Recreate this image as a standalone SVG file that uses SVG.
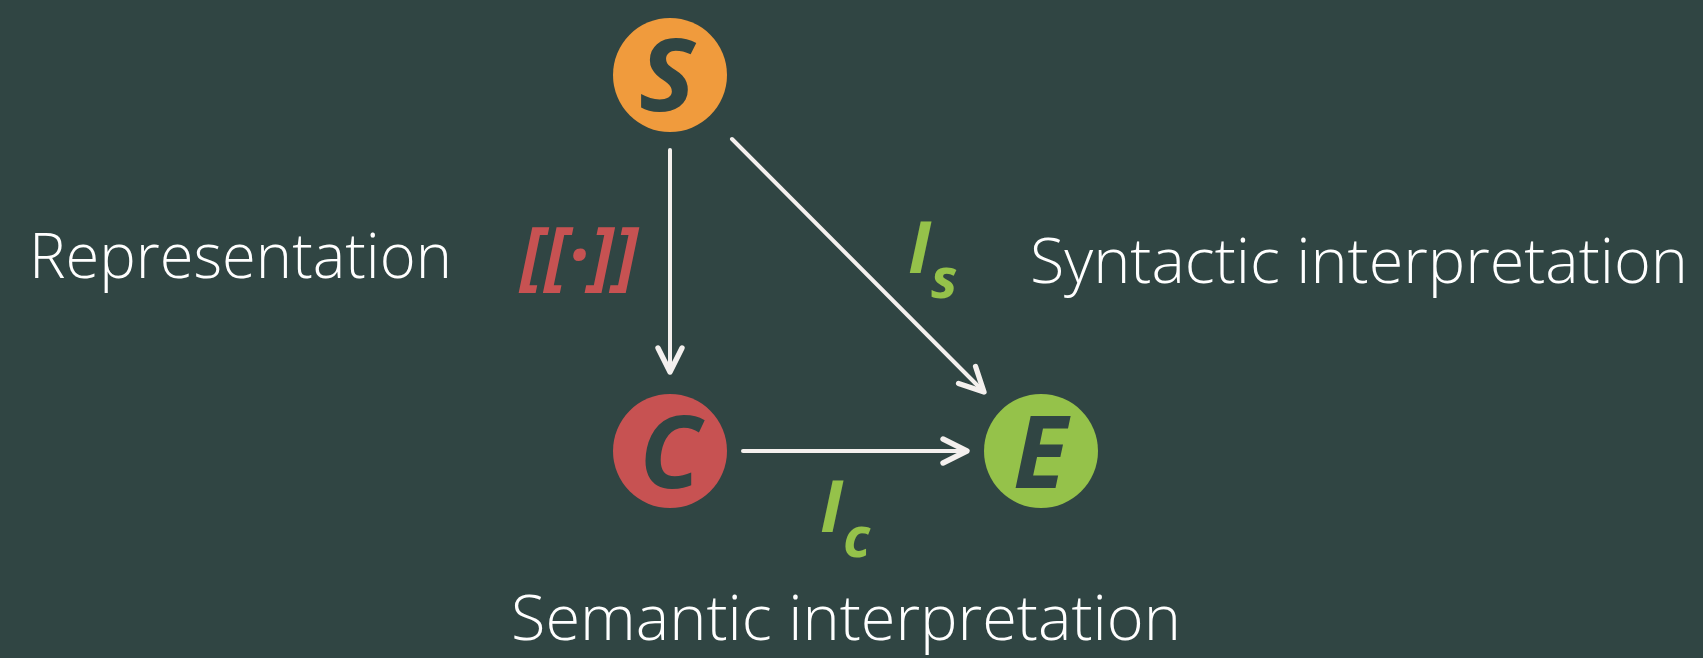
<svg xmlns="http://www.w3.org/2000/svg" width="1703" height="658" viewBox="0 0 1703 658">
<style>
.lbl{font-family:"Open Sans","Liberation Sans",sans-serif;font-weight:300;font-size:62px;fill:#ffffff}
.node{font-family:"Open Sans","Liberation Sans",sans-serif;font-weight:700;font-style:italic;font-size:100px;fill:#304543;text-anchor:middle}
.math{font-family:"Open Sans","Liberation Sans",sans-serif;font-weight:700;font-style:italic;fill:#95c24a}
.edge{stroke:#f4f0ee;stroke-width:4;stroke-linecap:round;fill:none}
</style>
<defs>
<marker id="ah" markerUnits="userSpaceOnUse" markerWidth="40" markerHeight="40" viewBox="-25 -15 30 30" refX="0" refY="0" orient="auto">
<path d="M-18 -9 L0 0 L-18 9" fill="none" stroke="#f4f0ee" stroke-width="4" stroke-linecap="round" stroke-linejoin="round"/>
</marker>
</defs>
<rect width="1703" height="658" fill="#304543"/>
<g id="connectors">
<path class="edge" d="M670 150 L670 372" marker-end="url(#ah)"/>
<path class="edge" d="M732 139 L984 392" marker-end="url(#ah)"/>
<path class="edge" d="M743 451 L967 451" marker-end="url(#ah)"/>
</g>
<g id="node-S">
<circle cx="670" cy="75" r="57" fill="#f09b3d"/>
<text class="node" x="667" y="111" textLength="56" lengthAdjust="spacingAndGlyphs">S</text>
</g>
<g id="node-C">
<circle cx="670" cy="451" r="57" fill="#c75252"/>
<text class="node" x="670" y="488">C</text>
</g>
<g id="node-E">
<circle cx="1041" cy="451" r="57" fill="#95c24a"/>
<text class="node" x="1040" y="488">E</text>
</g>
<g id="labels">
<text class="lbl" x="29" y="278" textLength="423" lengthAdjust="spacingAndGlyphs">Representation</text>
<text class="lbl" x="1030" y="283" textLength="658" lengthAdjust="spacingAndGlyphs">Syntactic interpretation</text>
<text class="lbl" x="511" y="640" textLength="670" lengthAdjust="spacingAndGlyphs">Semantic interpretation</text>
<text x="520" y="281" font-family="Open Sans, Liberation Sans, sans-serif" font-weight="700" font-style="italic" font-size="76" fill="#c75252" textLength="118" lengthAdjust="spacingAndGlyphs">[[·]]</text>
<text class="math" x="908" y="273" font-size="72">I<tspan font-size="56" dy="25">s</tspan></text>
<text class="math" x="820" y="532" font-size="72">I<tspan font-size="56" dy="25">c</tspan></text>
</g>
</svg>
